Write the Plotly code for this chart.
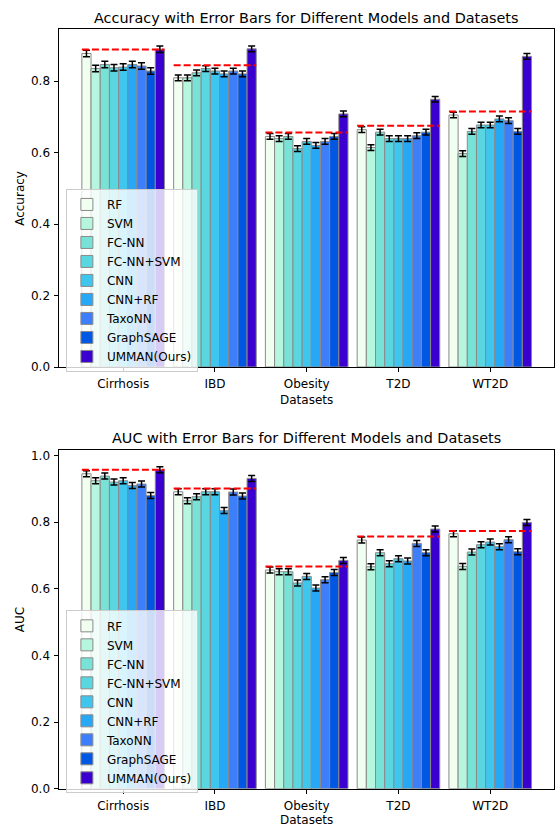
import plotly.graph_objects as go

datasets = ["Cirrhosis", "IBD", "Obesity", "T2D", "WT2D"]
models = ["RF", "SVM", "FC-NN", "FC-NN+SVM", "CNN", "CNN+RF", "TaxoNN", "GraphSAGE", "UMMAN(Ours)"]
colors = ["#F0FFF0", "#B6F5DE", "#79E2D6", "#5AD6E0", "#3EC6EF", "#26A8F7", "#3D7FFA", "#0057E3", "#3A00CF"]

# Accuracy (mean) per model, order = datasets
acc_RF = [0.877, 0.809, 0.645, 0.664, 0.705]
acc_SVM = [0.835, 0.809, 0.639, 0.614, 0.597]
acc_FCNN = [0.846, 0.823, 0.645, 0.657, 0.659]
acc_FCNN_SVM = [0.837, 0.835, 0.611, 0.639, 0.677]
acc_CNN = [0.839, 0.828, 0.631, 0.639, 0.677]
acc_CNN_RF = [0.846, 0.820, 0.620, 0.639, 0.694]
acc_TaxoNN = [0.842, 0.828, 0.631, 0.647, 0.689]
acc_GraphSAGE = [0.828, 0.820, 0.645, 0.657, 0.659]
acc_UMMAN = [0.889, 0.890, 0.708, 0.749, 0.869]
acc_err = [0.009, 0.008, 0.008, 0.008, 0.008]
acc_best_baseline = [0.888, 0.844, 0.656, 0.675, 0.715]

# AUC (mean) per model
auc_RF = [0.945, 0.891, 0.656, 0.746, 0.765]
auc_SVM = [0.924, 0.864, 0.651, 0.666, 0.667]
auc_FCNN = [0.938, 0.876, 0.651, 0.708, 0.710]
auc_FCNN_SVM = [0.920, 0.891, 0.617, 0.675, 0.732]
auc_CNN = [0.924, 0.891, 0.637, 0.690, 0.740]
auc_CNN_RF = [0.910, 0.835, 0.602, 0.683, 0.726]
auc_TaxoNN = [0.914, 0.890, 0.627, 0.736, 0.747]
auc_GraphSAGE = [0.880, 0.878, 0.649, 0.708, 0.711]
auc_UMMAN = [0.957, 0.931, 0.685, 0.779, 0.799]
auc_err = [0.009, 0.009, 0.009, 0.009, 0.009]
auc_best_baseline = [0.957, 0.901, 0.667, 0.757, 0.773]

acc_all = [acc_RF, acc_SVM, acc_FCNN, acc_FCNN_SVM, acc_CNN, acc_CNN_RF, acc_TaxoNN, acc_GraphSAGE, acc_UMMAN]
auc_all = [auc_RF, auc_SVM, auc_FCNN, auc_FCNN_SVM, auc_CNN, auc_CNN_RF, auc_TaxoNN, auc_GraphSAGE, auc_UMMAN]

W, H = 555, 831
FONT = "DejaVu Sans"
xpos = list(range(len(datasets)))

fig = go.Figure()

def add_panel(values_all, err, best, xa, ya, legend_name):
    for m, vals, c in zip(models, values_all, colors):
        fig.add_trace(go.Bar(
            x=xpos, y=vals, name=m, xaxis=xa, yaxis=ya, legend=legend_name,
            marker=dict(color=c, line=dict(color="#8a8a8a", width=1)),
            error_y=dict(type="data", array=err, color="black", thickness=1.5, width=3.5),
            offsetgroup=m,
        ))
    lx, ly = [], []
    for i, b in zip(xpos, best):
        lx += [i - 0.45, i + 0.45, None]
        ly += [b, b, None]
    fig.add_trace(go.Scatter(x=lx, y=ly, mode="lines", xaxis=xa, yaxis=ya, showlegend=False,
                             line=dict(color="red", width=2, dash="7px,3px"), hoverinfo="skip"))

add_panel(acc_all, acc_err, acc_best_baseline, "x", "y", "legend")
add_panel(auc_all, auc_err, auc_best_baseline, "x2", "y2", "legend2")

x0 = 59.5 / W
top1, bot1 = 27.5, 369.0
top2, bot2 = 453.3, 795.3

axis_common = dict(showline=True, linecolor="black", linewidth=0.8, mirror=True,
                   ticks="outside", ticklen=4, tickwidth=0.8, tickcolor="black",
                   ticklabelstandoff=2,
                   showgrid=False, zeroline=False, tickfont=dict(family=FONT, size=12, color="black"))

LEGFONT = dict(family=FONT, size=12, color="black")

fig.update_layout(
    width=W, height=H, margin=dict(l=0, r=0, t=0, b=0),
    paper_bgcolor="white", plot_bgcolor="white",
    font=dict(family=FONT, size=12, color="black"),
    barmode="group", bargap=0.1, bargroupgap=0,
    xaxis=dict(domain=[x0, 1.0], anchor="y", range=[-0.695, 4.695],
               tickvals=xpos, ticktext=datasets, **axis_common),
    yaxis=dict(domain=[1 - bot1 / H, 1 - top1 / H], anchor="x", range=[0, 0.945],
               tickvals=[0, 0.2, 0.4, 0.6, 0.8], tickformat=".1f", **axis_common),
    xaxis2=dict(domain=[x0, 1.0], anchor="y2", range=[-0.695, 4.695],
                tickvals=xpos, ticktext=datasets, **axis_common),
    yaxis2=dict(domain=[1 - bot2 / H, 1 - top2 / H], anchor="x2", range=[0, 1.015],
                tickvals=[0, 0.2, 0.4, 0.6, 0.8, 1.0], tickformat=".1f", **axis_common),
    legend=dict(x=66 / W, y=1 - 189 / H, xanchor="left", yanchor="top",
                bgcolor="rgba(255,255,255,0.8)", bordercolor="#cccccc", borderwidth=1,
                font=LEGFONT, tracegroupgap=0),
    legend2=dict(x=66 / W, y=1 - 615 / H, xanchor="left", yanchor="top",
                 bgcolor="rgba(255,255,255,0.8)", bordercolor="#cccccc", borderwidth=1,
                 font=LEGFONT, tracegroupgap=0),
)

xc = (59.5 + W) / 2 / W
ann = [
    dict(text="Accuracy with Error Bars for Different Models and Datasets", x=xc, y=1 - 16 / H,
         font=dict(size=14.4)),
    dict(text="AUC with Error Bars for Different Models and Datasets", x=xc, y=1 - 441 / H,
         font=dict(size=14.4)),
    dict(text="Datasets", x=xc, y=1 - 402 / H),
    dict(text="Datasets", x=xc, y=1 - 827 / H),
    dict(text="Accuracy", x=20 / W, y=1 - 198 / H, textangle=-90),
    dict(text="AUC", x=20 / W, y=1 - 624 / H, textangle=-90),
]
for a in ann:
    f = dict(family=FONT, size=12, color="black")
    f.update(a.pop("font", {}))
    fig.add_annotation(xref="paper", yref="paper", xanchor="center", yanchor="middle",
                       showarrow=False, font=f, **a)

fig.write_html("out.html", config={"displayModeBar": False},
               post_script="document.body.style.margin='0px';")
